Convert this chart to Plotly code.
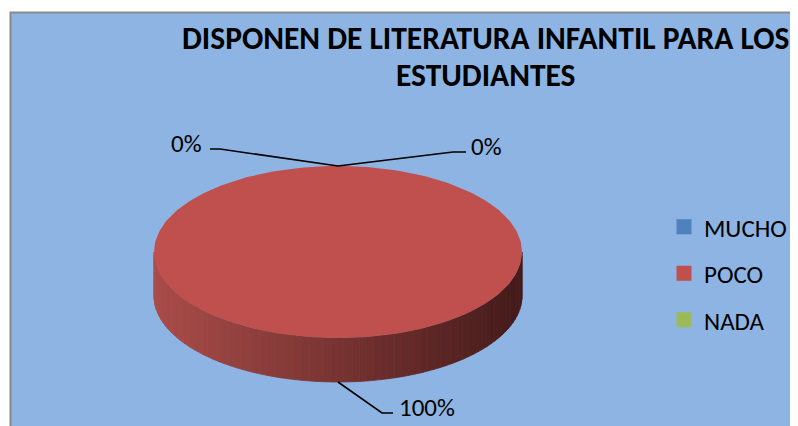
import numpy as np
import plotly.graph_objects as go

# ---------------- data ----------------
categories = ["MUCHO", "POCO", "NADA"]
values = [0, 100, 0]
colors = ["#4F81BD", "#C0504D", "#9BBB59"]
title_lines = ["DISPONEN DE LITERATURA INFANTIL PARA LOS", "ESTUDIANTES"]

# ---------------- layout / geometry ----------------
W, H = 798, 426
OFF = 8  # page body margin
cx, cy, rx, ry, depth = 338, 252, 184, 86, 44
FONT = "Carlito, Calibri, Lato, sans-serif"
BG = "#8DB4E2"
# label placement: (elbow x, elbow y, end x, text x, text y, anchor)
label_layout = [
    (220, 149, 210, 204, 143, "right"),
    (382, 413, 393, 397, 407, "left"),
    (453, 152, 466, 469, 146, "left"),
]

total = float(sum(values))
fracs = [v / total for v in values]
starts = np.concatenate([[0], np.cumsum(fracs)[:-1]]) * 2 * np.pi
ends = np.cumsum(fracs) * 2 * np.pi


def pt(t, dy=0.0):
    return cx + rx * np.sin(t), cy - ry * np.cos(t) + dy


def lerp(c1, c2, f):
    return "rgb(%d,%d,%d)" % tuple(int(round(a + (b - a) * f)) for a, b in zip(c1, c2))


fig = go.Figure()

# side walls (front half only), shaded left->right
left_c, right_c = (170, 76, 73), (68, 27, 26)
for s, e, v in zip(starts, ends, values):
    if v <= 0:
        continue
    a0, a1 = max(s, np.pi / 2), min(e, 3 * np.pi / 2)
    if a1 <= a0:
        continue
    n = 80
    ts = np.linspace(a0, a1, n + 1)
    for i in range(n):
        t1, t2 = ts[i], ts[i + 1]
        x1, y1 = pt(t1)
        x2, y2 = pt(t2)
        xm = (x1 + x2) / 2
        f = (xm - (cx - rx)) / (2 * rx)
        col = lerp(left_c, right_c, min(max(f, 0), 1))
        fig.add_trace(go.Scatter(
            x=[x1, x2, x2, x1, x1], y=[y1, y2, y2 + depth, y1 + depth, y1],
            mode="lines", fill="toself", fillcolor=col,
            line=dict(color=col, width=0.8), showlegend=False, hoverinfo="skip"))

# top faces
for s, e, v, c in zip(starts, ends, values, colors):
    if v <= 0:
        continue
    ts = np.linspace(s, e, 240)
    xs, ys = pt(ts)
    xs = np.concatenate([[cx], xs, [cx]])
    ys = np.concatenate([[cy], ys, [cy]])
    fig.add_trace(go.Scatter(x=xs, y=ys, mode="lines", fill="toself", fillcolor=c,
                             line=dict(color=c, width=0), showlegend=False,
                             hoverinfo="skip"))

# leader lines and percentage labels
annotations = []
for s, e, v, lay in zip(starts, ends, values, label_layout):
    m = (s + e) / 2
    if np.cos(m) > 0:
        ax_, ay_ = pt(m)
    else:
        ax_, ay_ = pt(m, depth)
    ex, ey, endx, tx, ty, anc = lay
    fig.add_trace(go.Scatter(x=[ax_, ex, endx], y=[ay_, ey, ey], mode="lines",
                             line=dict(color="black", width=1.6),
                             showlegend=False, hoverinfo="skip"))
    annotations.append(dict(x=tx, y=ty, xref="x", yref="y", text="%d%%" % round(v / total * 100),
                            showarrow=False, xanchor=anc, yanchor="middle",
                            font=dict(family=FONT, size=25, color="black")))

# legend entries
for i, (cat, c) in enumerate(zip(categories, colors)):
    fig.add_trace(go.Scatter(x=[None], y=[None], mode="markers", name=cat,
                             marker=dict(symbol="square", size=15, color=c),
                             legendgroup=cat, showlegend=True))

# title
for i, line in enumerate(title_lines):
    annotations.append(dict(x=485.5, y=38 + 37 * i, xref="x", yref="y", text="<b>%s</b>" % line,
                            showarrow=False, xanchor="center", yanchor="middle",
                            font=dict(family=FONT, size=31.5, color="black")))

fig.update_layout(
    width=W, height=H, margin=dict(l=0, r=0, t=0, b=0),
    paper_bgcolor="white", plot_bgcolor="rgba(0,0,0,0)",
    xaxis=dict(range=[OFF, W + OFF], visible=False, fixedrange=True),
    yaxis=dict(range=[H + OFF, OFF], visible=False, fixedrange=True),
    shapes=[dict(type="rect", xref="x", yref="y", x0=10.5, y0=12.5, x1=820, y1=450,
                 fillcolor=BG, line=dict(color="#8a8a8a", width=2), layer="below")],
    annotations=annotations,
    showlegend=True,
    legend=dict(x=656 / W, y=1 - 196 / H, xanchor="left", yanchor="top",
                bgcolor="rgba(0,0,0,0)", font=dict(family=FONT, size=25, color="black"),
                tracegroupgap=11, itemwidth=30),
)

fig.write_html("out.html")
